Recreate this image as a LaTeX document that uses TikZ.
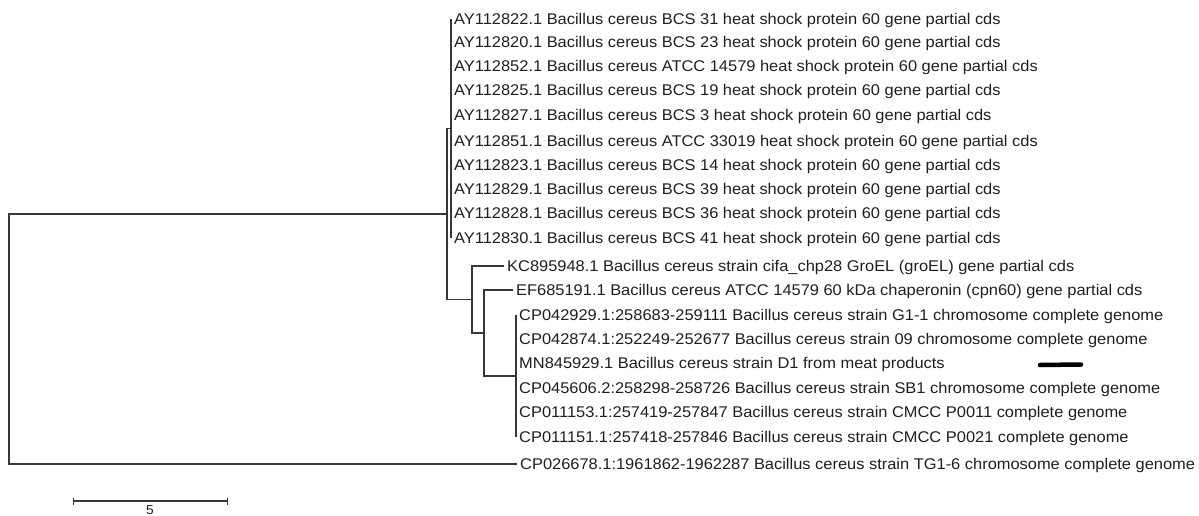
\documentclass[tikz,border=0pt]{standalone}
\usepackage{fontspec}
\setmainfont{Liberation Sans}[FakeStretch=1.06]
\usepackage{xcolor}
\usepackage{tikz}
\usetikzlibrary{arrows.meta,positioning}
\definecolor{tink}{HTML}{1F1F1F}
\definecolor{tline}{HTML}{383838}
\tikzset{
  tbranch/.style={draw=tline, line width=1.2pt},
  tleaf/.style={anchor=west, inner sep=3pt, text=tink, text height=11pt,
                text depth=0pt, font=\fontsize{15.5}{18}\selectfont},
  tscale/.style={draw=tline, line width=1.4pt, {Bar[width=7pt]}-{Bar[width=7pt]}},
  tredact/.style={draw=black, line width=4.5pt, line cap=round},
}

\begin{document}
\begin{tikzpicture}[x=1pt,y=-1pt]
  \useasboundingbox (0,0) rectangle (1199,516);

  % --- inner nodes ---
  \coordinate (root) at (9,339);
  \coordinate (nA)   at (447,214);
  \coordinate (nAY)  at (451,128.5);
  \coordinate (nB)   at (472,299.5);
  \coordinate (nC)   at (484,333);
  \coordinate (nD)   at (516,376);

  % --- AY cluster ---
  \foreach \i/\yy/\txt in {
      1/19/AY112822.1 Bacillus cereus BCS 31 heat shock protein 60 gene partial cds,
      2/42/AY112820.1 Bacillus cereus BCS 23 heat shock protein 60 gene partial cds,
      3/66/AY112852.1 Bacillus cereus ATCC 14579 heat shock protein 60 gene partial cds,
      4/90/AY112825.1 Bacillus cereus BCS 19 heat shock protein 60 gene partial cds,
      5/115/AY112827.1 Bacillus cereus BCS 3 heat shock protein 60 gene partial cds,
      6/141/AY112851.1 Bacillus cereus ATCC 33019 heat shock protein 60 gene partial cds,
      7/165/AY112823.1 Bacillus cereus BCS 14 heat shock protein 60 gene partial cds,
      8/189/AY112829.1 Bacillus cereus BCS 39 heat shock protein 60 gene partial cds,
      9/213/AY112828.1 Bacillus cereus BCS 36 heat shock protein 60 gene partial cds,
      10/238/AY112830.1 Bacillus cereus BCS 41 heat shock protein 60 gene partial cds}
  {
    \node[tleaf] (ay\i) at (451,\yy) {\txt};
    \draw[tbranch] (nAY) |- (ay\i.west);
  }

  % --- groEL / cpn60 ---
  \node[tleaf] (kc) at (504,266)
    {KC895948.1 Bacillus cereus strain cifa\_chp28 GroEL (groEL) gene partial cds};
  \node[tleaf] (ef) at (513,290)
    {EF685191.1 Bacillus cereus ATCC 14579 60 kDa chaperonin (cpn60) gene partial cds};

  % --- genome cluster ---
  \foreach \i/\yy/\txt in {
      1/315/CP042929.1:258683-259111 Bacillus cereus strain G1-1 chromosome complete genome,
      2/339/CP042874.1:252249-252677 Bacillus cereus strain 09 chromosome complete genome,
      3/363/MN845929.1 Bacillus cereus strain D1 from meat products,
      4/388/CP045606.2:258298-258726 Bacillus cereus strain SB1 chromosome complete genome,
      5/412/CP011153.1:257419-257847 Bacillus cereus strain CMCC P0011 complete genome,
      6/437/CP011151.1:257418-257846 Bacillus cereus strain CMCC P0021 complete genome}
  {
    \node[tleaf] (cp\i) at (516,\yy) {\txt};
    \draw[tbranch] (nD) |- (cp\i.west);
  }

  % --- outgroup ---
  \node[tleaf] (out) at (517,464)
    {CP026678.1:1961862-1962287 Bacillus cereus strain TG1-6 chromosome complete genome};

  % branches
  \draw[tbranch] (root) |- (nA);
  \draw[tbranch] (root) |- (out.west);
  \draw[tbranch] (nA) |- (nAY);
  \draw[tbranch] (nA) |- (nB);
  \draw[tbranch] (nB) |- (kc.west);
  \draw[tbranch] (nB) |- (nC);
  \draw[tbranch] (nC) |- (ef.west);
  \draw[tbranch] (nC) |- (nD);

  % mark after MN845929
  \draw[tredact] (1040,365) -- (1081,364.5);

  % --- scale bar ---
  \coordinate (sb0) at (73,501);
  \coordinate (sb1) at (228,501);
  \draw[tscale] (sb0) -- (sb1);
  \node[anchor=base, inner sep=0pt, text=tink, font=\fontsize{13}{15}\selectfont]
    (sblbl) at (150,514.5) {5};

\end{tikzpicture}
\end{document}
